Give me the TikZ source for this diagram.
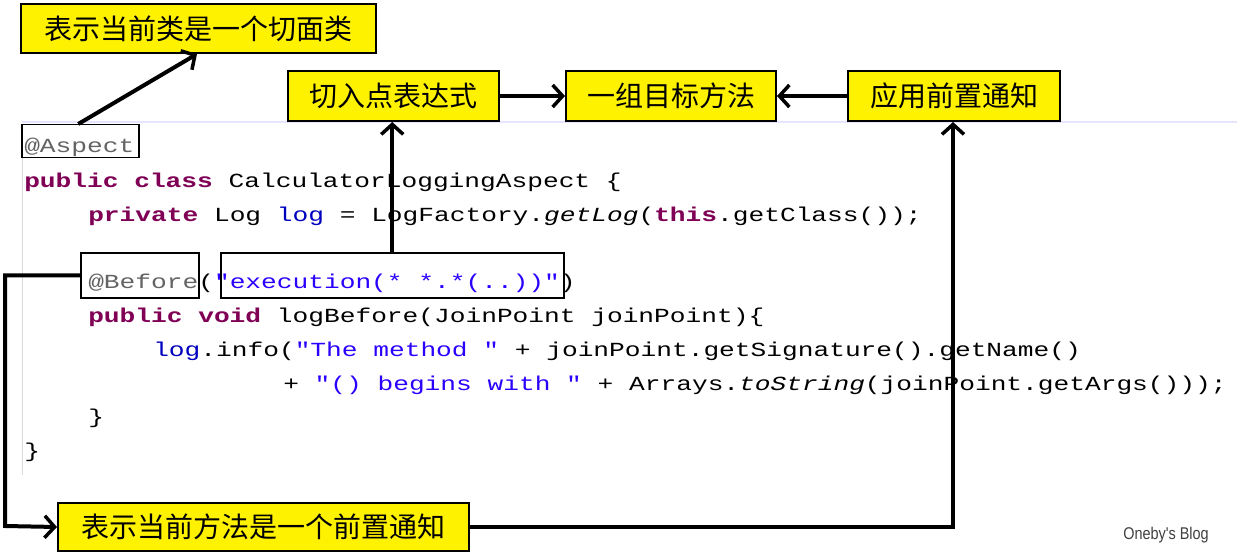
\documentclass[tikz,border=0pt]{standalone}
\usepackage{fontspec}
\setmonofont{Liberation Mono}
\newfontfamily\cjk{Noto Sans CJK SC}
\newfontfamily\blogfont{Liberation Sans}
\usetikzlibrary{arrows.meta}
\definecolor{kw}{RGB}{127,0,85}
\definecolor{str}{RGB}{42,0,255}
\definecolor{ann}{RGB}{100,100,100}
\definecolor{fld}{RGB}{0,0,192}
\begin{document}
\begin{tikzpicture}[x=1pt,y=-1pt,
  note/.style={draw=black,line width=2pt,fill=yellow,font=\cjk\fontsize{28}{28}\selectfont,inner sep=0pt,anchor=north west},
  code/.style={anchor=base west,inner sep=0pt,font=\ttfamily\fontsize{20}{20}\selectfont,transform shape,xscale=1.31},
  frame/.style={draw=black,line width=1.5pt},
  conn/.style={line width=4pt,-{Straight Barb[length=10pt,width=22pt,line width=3.5pt]}}]
\useasboundingbox (0,0) rectangle (1237,559);
\fill[white] (0,0) rectangle (1237,559);
\draw[blue!10,line width=2pt] (22,122) -- (1237,122);
\draw[black!15,line width=1pt] (22,124) -- (22,475);
% code
\node[code] (l1) at (24,153) {\textcolor{ann}{@Aspect}};
\node[code] (l2) at (24,187) {\textcolor{kw}{\bfseries public class} CalculatorLoggingAspect \{};
\node[code] (l3) at (88,221) {\textcolor{kw}{\bfseries private} Log \textcolor{fld}{log} = LogFactory.\textit{getLog}(\textcolor{kw}{\bfseries this}.getClass());};
\node[code] (l4) at (88,288) {\textcolor{ann}{@Before}(\textcolor{str}{"execution(* *.*(..))"})};
\node[code] (l5) at (88,322) {\textcolor{kw}{\bfseries public void} logBefore(JoinPoint joinPoint)\{};
\node[code] (l6) at (153,356) {\textcolor{fld}{log}.info(\textcolor{str}{"The method "} + joinPoint.getSignature().getName()};
\node[code] (l7) at (283,390) {+ \textcolor{str}{"() begins with "} + Arrays.\textit{toString}(joinPoint.getArgs()));};
\node[code] (l8) at (88,423) {\}};
\node[code] (l9) at (24,457) {\}};
% frames
\node[frame,anchor=north west,minimum width=117pt,minimum height=33pt,inner sep=0pt] (fa) at (21,124) {};
\node[frame,anchor=north west,minimum width=118pt,minimum height=45pt,inner sep=0pt] (fb) at (80,252) {};
\node[frame,anchor=north west,minimum width=343pt,minimum height=45pt,inner sep=0pt] (fe) at (220,252) {};
% notes
\node[note,minimum width=355pt,minimum height=49pt] (n1) at (20,3) {表示当前类是一个切面类};
\node[note,minimum width=211pt,minimum height=50pt] (n2) at (287,70) {切入点表达式};
\node[note,minimum width=210pt,minimum height=50pt] (n3) at (565,70) {一组目标方法};
\node[note,minimum width=212pt,minimum height=50pt] (n4) at (847,70) {应用前置通知};
\node[note,minimum width=411pt,minimum height=48pt] (n5) at (57,502) {表示当前方法是一个前置通知};
\node[anchor=center,font=\blogfont\fontsize{17}{17}\selectfont,text=black!75,inner sep=0pt,transform shape,xscale=0.85] (blog) at (1166,535) {Oneby's Blog};
% connectors
\draw[conn] ([xshift=-2pt]fa.north) -- ([xshift=-180pt]n1.south east);
\draw[conn] (n2.east) -- (n3.west);
\draw[conn] (n4.west) -- (n3.east);
\draw[conn] (fe.north) -- (fe.north |- n2.south);
\draw[conn] (fb.west) -| (5,526) -- (n5.west);
\draw[conn] (n5.east) -| (953,122);
\end{tikzpicture}
\end{document}
